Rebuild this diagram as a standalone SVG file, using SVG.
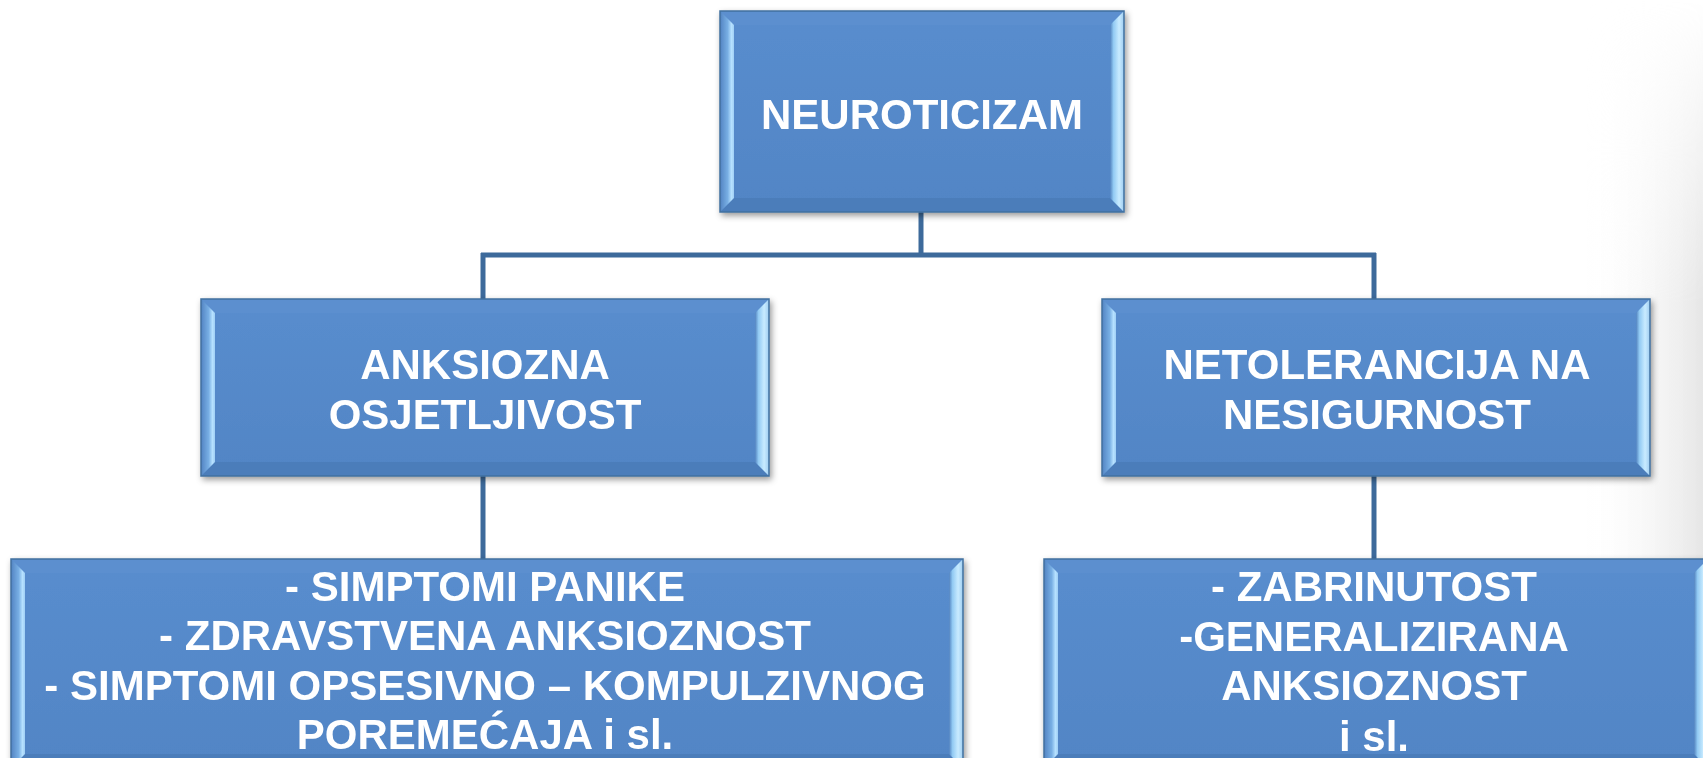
<svg xmlns="http://www.w3.org/2000/svg" width="1703" height="758" viewBox="0 0 1703 758">
  <style>
    .face { fill: url(#faceGrad); }
    .edge { fill: none; stroke: #41709f; stroke-width: 1.5; }
    .bev-top { fill: #5b8fcf; }
    .bev-bot { fill: #4b7dba; }
    .bev-l { fill: url(#bevLeft); }
    .bev-r { fill: url(#bevRight); }
    .label { font-family: "Liberation Sans", Arial, sans-serif; font-weight: bold; font-size: 42px; fill: #ffffff; text-anchor: middle; }
    .conn { fill: none; stroke: #3d6a9b; stroke-width: 5; stroke-linecap: butt; }
  </style>
  <defs>
    <linearGradient id="faceGrad" x1="0" y1="0" x2="0" y2="1">
      <stop offset="0" stop-color="#598dce"/>
      <stop offset="1" stop-color="#5185c5"/>
    </linearGradient>
    <linearGradient id="bevLeft" x1="0" y1="0" x2="1" y2="0">
      <stop offset="0" stop-color="#5283c2"/>
      <stop offset="0.55" stop-color="#78afe4"/>
      <stop offset="0.82" stop-color="#b6e1ff"/>
      <stop offset="1" stop-color="#a0cff5"/>
    </linearGradient>
    <linearGradient id="bevRight" x1="0" y1="0" x2="1" y2="0">
      <stop offset="0" stop-color="#5283c0"/>
      <stop offset="0.25" stop-color="#92caf3"/>
      <stop offset="0.65" stop-color="#c8ebff"/>
      <stop offset="1" stop-color="#9fcdf1"/>
    </linearGradient>
    <linearGradient id="bgRight" x1="0" y1="0" x2="1" y2="0">
      <stop offset="0" stop-color="#ffffff" stop-opacity="0"/>
      <stop offset="1" stop-color="#e6e6e6"/>
    </linearGradient>
    <linearGradient id="bgFade" x1="0" y1="0" x2="0" y2="1">
      <stop offset="0" stop-color="#ffffff" stop-opacity="0"/>
      <stop offset="0.4" stop-color="#ffffff" stop-opacity="1"/>
      <stop offset="1" stop-color="#ffffff" stop-opacity="1"/>
    </linearGradient>
    <mask id="bgMask">
      <rect x="1580" y="0" width="123" height="758" fill="url(#bgFade)"/>
    </mask>
    <filter id="shadow" x="-5%" y="-8%" width="110%" height="120%">
      <feDropShadow dx="2" dy="3" stdDeviation="3" flood-color="#000000" flood-opacity="0.4"/>
    </filter>
  </defs>

  <!-- page background with soft grey fade on the right -->
  <rect x="0" y="0" width="1703" height="758" fill="#ffffff"/>
  <rect x="1580" y="0" width="123" height="758" fill="url(#bgRight)" mask="url(#bgMask)"/>

  <!-- connectors -->
  <g id="connectors">
    <line class="conn" x1="921" y1="211" x2="921" y2="255"/>
    <line class="conn" x1="481" y1="255" x2="1376" y2="255"/>
    <line class="conn" x1="483" y1="253" x2="483" y2="300"/>
    <line class="conn" x1="1374" y1="253" x2="1374" y2="300"/>
    <line class="conn" x1="483" y1="476" x2="483" y2="560"/>
    <line class="conn" x1="1374" y1="476" x2="1374" y2="560"/>
  </g>

  <!-- top node -->
  <g id="node-neuroticizam" filter="url(#shadow)">
    <rect class="face" x="720" y="11" width="404" height="201"/>
    <polygon class="bev-top" points="720,11 1124,11 1110,25 734,25"/>
    <polygon class="bev-bot" points="720,212 1124,212 1110,198 734,198"/>
    <polygon class="bev-l" points="720,11 734,25 734,198 720,212"/>
    <polygon class="bev-r" points="1124,11 1110,25 1110,198 1124,212"/>
    <rect class="edge" x="720" y="11" width="404" height="201"/>
    <text class="label" x="922" y="129">NEUROTICIZAM</text>
  </g>

  <!-- middle left node -->
  <g id="node-anksiozna" filter="url(#shadow)">
    <rect class="face" x="201" y="299" width="568" height="177"/>
    <polygon class="bev-top" points="201,299 769,299 755,313 215,313"/>
    <polygon class="bev-bot" points="201,476 769,476 755,462 215,462"/>
    <polygon class="bev-l" points="201,299 215,313 215,462 201,476"/>
    <polygon class="bev-r" points="769,299 755,313 755,462 769,476"/>
    <rect class="edge" x="201" y="299" width="568" height="177"/>
    <text class="label" x="485" y="379">ANKSIOZNA</text>
    <text class="label" x="485" y="429">OSJETLJIVOST</text>
  </g>

  <!-- middle right node -->
  <g id="node-netolerancija" filter="url(#shadow)">
    <rect class="face" x="1102" y="299" width="548" height="177"/>
    <polygon class="bev-top" points="1102,299 1650,299 1636,313 1116,313"/>
    <polygon class="bev-bot" points="1102,476 1650,476 1636,462 1116,462"/>
    <polygon class="bev-l" points="1102,299 1116,313 1116,462 1102,476"/>
    <polygon class="bev-r" points="1650,299 1636,313 1636,462 1650,476"/>
    <rect class="edge" x="1102" y="299" width="548" height="177"/>
    <text class="label" x="1377" y="379">NETOLERANCIJA NA</text>
    <text class="label" x="1377" y="429">NESIGURNOST</text>
  </g>

  <!-- bottom left node -->
  <g id="node-simptomi" filter="url(#shadow)">
    <rect class="face" x="11" y="559" width="952" height="209"/>
    <polygon class="bev-top" points="11,559 963,559 949,573 25,573"/>
    <polygon class="bev-bot" points="11,768 963,768 949,754 25,754"/>
    <polygon class="bev-l" points="11,559 25,573 25,754 11,768"/>
    <polygon class="bev-r" points="963,559 949,573 949,754 963,768"/>
    <rect class="edge" x="11" y="559" width="952" height="209"/>
    <text class="label" x="485" y="601">- SIMPTOMI PANIKE</text>
    <text class="label" x="485" y="650">- ZDRAVSTVENA ANKSIOZNOST</text>
    <text class="label" x="485" y="700">- SIMPTOMI OPSESIVNO – KOMPULZIVNOG</text>
    <text class="label" x="485" y="749">POREMEĆAJA i sl.</text>
  </g>

  <!-- bottom right node -->
  <g id="node-zabrinutost" filter="url(#shadow)">
    <rect class="face" x="1044" y="559" width="664" height="209"/>
    <polygon class="bev-top" points="1044,559 1708,559 1694,573 1058,573"/>
    <polygon class="bev-bot" points="1044,768 1708,768 1694,754 1058,754"/>
    <polygon class="bev-l" points="1044,559 1058,573 1058,754 1044,768"/>
    <polygon class="bev-r" points="1708,559 1694,573 1694,754 1708,768"/>
    <rect class="edge" x="1044" y="559" width="664" height="209"/>
    <text class="label" x="1374" y="601">- ZABRINUTOST</text>
    <text class="label" x="1374" y="651">-GENERALIZIRANA</text>
    <text class="label" x="1374" y="700">ANKSIOZNOST</text>
    <text class="label" x="1374" y="751">i sl.</text>
  </g>
</svg>
